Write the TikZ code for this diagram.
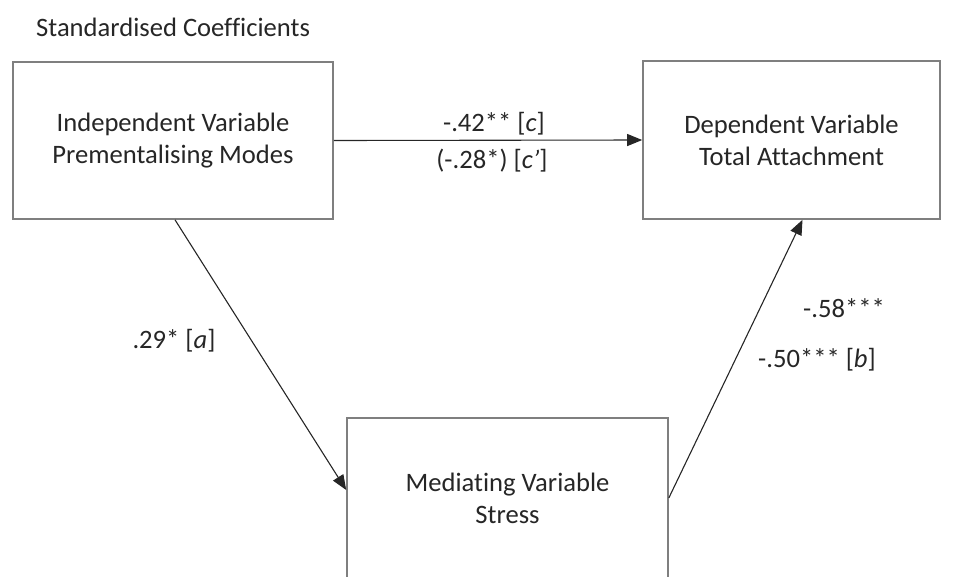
\documentclass[tikz,border=0pt]{standalone}
\usepackage{fontspec}
\setmainfont[Ligatures=NoCommon]{Carlito}
\usetikzlibrary{arrows.meta,calc}
\definecolor{boxline}{HTML}{7F7F7F}
\definecolor{ink}{HTML}{262626}
\tikzset{
  varbox/.style={draw=boxline, line width=1.6pt, fill=white, align=center,
    text=ink, font=\fontsize{26.6}{32}\selectfont, inner sep=0pt},
  path arrow/.style={draw=ink, line width=1.1pt, -{Triangle[length=15pt,width=12pt]}},
  coef/.style={text=ink, font=\fontsize{26.6}{32}\selectfont, inner sep=0pt},
}
\begin{document}
\begin{tikzpicture}[x=1pt,y=-1pt]
  \useasboundingbox (0,0) rectangle (953,576);
  \clip (0,0) rectangle (953,576);

  \node[coef, anchor=west] (title) at (36,27) {Standardised Coefficients};

  \node[varbox, minimum width=320pt, minimum height=157pt] (iv) at (173,140.5)
    {Independent Variable\\Prementalising Modes};
  \node[varbox, minimum width=297pt, minimum height=158pt] (dv) at (791.5,140)
    {Dependent Variable\\Total Attachment};
  \node[varbox, minimum width=321pt, minimum height=160pt] (mv) at (507.5,498)
    {Mediating Variable\\Stress};

  \draw[path arrow] ($(iv.south)+(2,0)$) -- ($(mv.west)+(0,-8)$);
  \draw[path arrow] (iv.east) -- (dv.west);
  \draw[path arrow] (mv.east) -- ($(dv.south)+(11,0)$);

  \node[coef] (c)  at (494,124) {-.42** [\textit{c}]};
  \node[coef] (cp) at (492,161) {(-.28*) [\textit{c’}]};
  \node[coef] (a)  at (174,341) {.29* [\textit{a}]};
  \node[coef] (bt) at (844,308) {-.58***};
  \node[coef] (b)  at (817,360) {-.50*** [\textit{b}]};
\end{tikzpicture}
\end{document}
